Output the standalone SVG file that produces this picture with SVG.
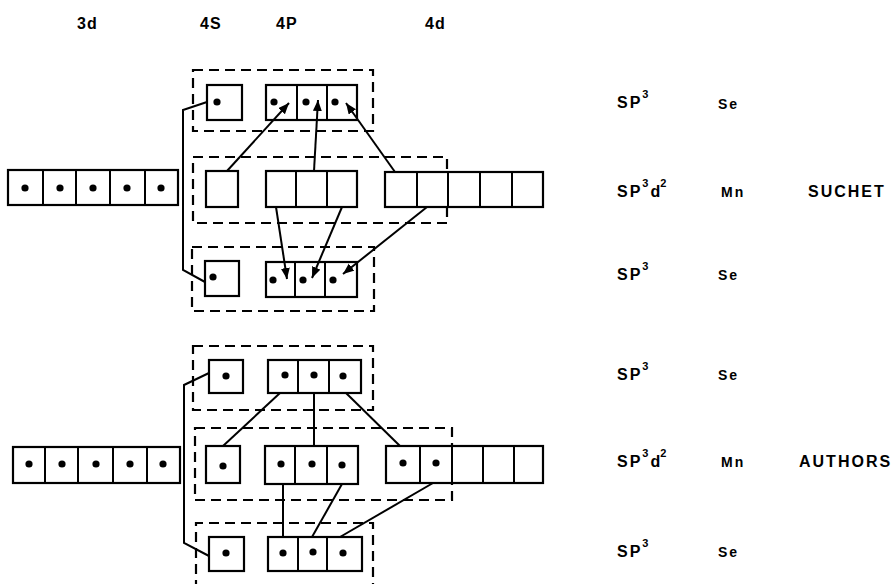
<svg xmlns="http://www.w3.org/2000/svg" width="894" height="584" viewBox="0 0 894 584">
<style>
.bx{fill:#fff;stroke:#000;stroke-width:2.2}
.dv{stroke:#000;stroke-width:2}
.dash{fill:none;stroke:#000;stroke-width:2.2;stroke-dasharray:10 6}
.ln{fill:none;stroke:#000;stroke-width:2}
.ar{marker-end:url(#ah)}
.dot{fill:#000}
.t{font-family:"Liberation Sans",Arial,sans-serif;font-weight:bold;fill:#000}
.h{font-size:16px;letter-spacing:1px}
.r{font-size:16px;letter-spacing:2px}
.s{font-size:14px;letter-spacing:2px}
.sup{font-size:11px}
</style>
<defs>
<marker id="ah" markerUnits="userSpaceOnUse" markerWidth="12" markerHeight="10" refX="11" refY="4.5" orient="auto">
<path d="M0,0 L11,4.5 L0,9 Z" fill="#000"/>
</marker>
</defs>
<rect width="894" height="584" fill="#fff"/>

<g id="headers" class="t h">
<text x="77" y="29">3d</text>
<text x="200" y="29">4S</text>
<text x="276" y="29">4P</text>
<text x="425" y="29">4d</text>
</g>

<g id="groups-suchet">
<rect class="dash" x="193" y="70" width="180" height="61"/>
<rect class="dash" x="193" y="157" width="254" height="66"/>
<rect class="dash" x="192" y="247" width="182" height="64"/>
</g>

<g id="groups-authors">
<rect class="dash" x="193" y="346" width="180" height="64"/>
<rect class="dash" x="195" y="428" width="257" height="72"/>
<path class="dash" d="M196,590 L196,523 L373,523 L373,590"/>
</g>

<g id="s-3d">
<rect class="bx" x="8" y="170" width="170" height="35"/>
<path class="dv" d="M43,170V205M76,170V205M110,170V205M145,170V205"/>
<circle class="dot" cx="25" cy="188" r="3.6"/><circle class="dot" cx="60" cy="188" r="3.6"/><circle class="dot" cx="93" cy="188" r="3.6"/><circle class="dot" cx="127" cy="188" r="3.6"/><circle class="dot" cx="161" cy="188" r="3.6"/>
</g>
<g id="s-se1-4s">
<rect class="bx" x="207" y="85" width="35" height="35"/>
<circle class="dot" cx="217" cy="102" r="3.6"/>
</g>
<g id="s-se1-4p">
<rect class="bx" x="266" y="85" width="91" height="35"/>
<path class="dv" d="M297,85V120M327,85V120"/>
<circle class="dot" cx="274" cy="102" r="3.6"/><circle class="dot" cx="306" cy="102" r="3.6"/><circle class="dot" cx="335" cy="102" r="3.6"/>
</g>
<g id="s-mn-4s">
<rect class="bx" x="206" y="171" width="32" height="36"/>
</g>
<g id="s-mn-4p">
<rect class="bx" x="266" y="171" width="91" height="36"/>
<path class="dv" d="M296,171V207M327,171V207"/>
</g>
<g id="s-mn-4d">
<rect class="bx" x="385" y="172" width="158" height="35"/>
<path class="dv" d="M417,172V207M448,172V207M480,172V207M512,172V207"/>
</g>
<g id="s-se2-4s">
<rect class="bx" x="205" y="261" width="34" height="35"/>
<circle class="dot" cx="213" cy="277" r="3.6"/>
</g>
<g id="s-se2-4p">
<rect class="bx" x="266" y="262" width="91" height="35"/>
<path class="dv" d="M295,262V297M325,262V297"/>
<circle class="dot" cx="273" cy="280" r="3.6"/><circle class="dot" cx="303" cy="280" r="3.6"/><circle class="dot" cx="333" cy="280" r="3.6"/>
</g>

<g id="a-3d">
<rect class="bx" x="13" y="447" width="167" height="36"/>
<path class="dv" d="M45,447V483M78,447V483M113,447V483M147,447V483"/>
<circle class="dot" cx="29" cy="464" r="3.6"/><circle class="dot" cx="62" cy="464" r="3.6"/><circle class="dot" cx="96" cy="464" r="3.6"/><circle class="dot" cx="130" cy="464" r="3.6"/><circle class="dot" cx="163" cy="464" r="3.6"/>
</g>
<g id="a-se1-4s">
<rect class="bx" x="209" y="360" width="34" height="33"/>
<circle class="dot" cx="226" cy="376" r="3.6"/>
</g>
<g id="a-se1-4p">
<rect class="bx" x="268" y="360" width="93" height="33"/>
<path class="dv" d="M298,360V393M329,360V393"/>
<circle class="dot" cx="285" cy="375" r="3.6"/><circle class="dot" cx="314" cy="375" r="3.6"/><circle class="dot" cx="343" cy="376" r="3.6"/>
</g>
<g id="a-mn-4s">
<rect class="bx" x="206" y="446" width="34" height="37"/>
<circle class="dot" cx="223" cy="466" r="3.6"/>
</g>
<g id="a-mn-4p">
<rect class="bx" x="265" y="446" width="93" height="38"/>
<path class="dv" d="M295,446V484M327,446V484"/>
<circle class="dot" cx="281" cy="464" r="3.6"/><circle class="dot" cx="312" cy="464" r="3.6"/><circle class="dot" cx="342" cy="465" r="3.6"/>
</g>
<g id="a-mn-4d">
<rect class="bx" x="386" y="446" width="157" height="37"/>
<path class="dv" d="M420,446V483M452,446V483M483,446V483M514,446V483"/>
<circle class="dot" cx="403" cy="463" r="3.6"/><circle class="dot" cx="436" cy="463" r="3.6"/>
</g>
<g id="a-se2-4s">
<rect class="bx" x="209" y="537" width="35" height="34"/>
<circle class="dot" cx="226" cy="553" r="3.6"/>
</g>
<g id="a-se2-4p">
<rect class="bx" x="268" y="537" width="94" height="34"/>
<path class="dv" d="M298,537V571M327,537V571"/>
<circle class="dot" cx="283" cy="553" r="3.6"/><circle class="dot" cx="313" cy="552" r="3.6"/><circle class="dot" cx="343" cy="553" r="3.6"/>
</g>

<g id="connectors">
<polyline class="ln" points="207,102 183,110 183,270 205,282"/>
<line class="ln ar" x1="227" y1="171" x2="289" y2="103"/>
<line class="ln ar" x1="314" y1="171" x2="318" y2="100"/>
<line class="ln ar" x1="395" y1="172" x2="346" y2="103"/>
<line class="ln ar" x1="276" y1="207" x2="287" y2="279"/>
<line class="ln ar" x1="342" y1="207" x2="312" y2="278"/>
<line class="ln ar" x1="427" y1="207" x2="343" y2="274"/>

<polyline class="ln" points="209,373 184,385 184,543 209,556"/>
<line class="ln" x1="280" y1="393" x2="223" y2="446"/>
<line class="ln" x1="314" y1="393" x2="314" y2="446"/>
<line class="ln" x1="346" y1="393" x2="400" y2="446"/>
<line class="ln" x1="283" y1="484" x2="283" y2="537"/>
<line class="ln" x1="342" y1="484" x2="312" y2="537"/>
<line class="ln" x1="433" y1="483" x2="340" y2="537"/>
</g>

<g id="labels" class="t">
<text class="r" x="617" y="108">SP<tspan class="sup" dy="-10">3</tspan></text>
<text class="s" x="718" y="109">Se</text>
<text class="r" x="617" y="197">SP<tspan class="sup" dy="-10">3</tspan><tspan dy="10" letter-spacing="0">d</tspan><tspan class="sup" dy="-10">2</tspan></text>
<text class="s" x="721" y="197">Mn</text>
<text class="r" x="808" y="197" letter-spacing="2.5">SUCHET</text>
<text class="r" x="617" y="280">SP<tspan class="sup" dy="-10">3</tspan></text>
<text class="s" x="718" y="280">Se</text>

<text class="r" x="617" y="380">SP<tspan class="sup" dy="-10">3</tspan></text>
<text class="s" x="718" y="380">Se</text>
<text class="r" x="617" y="467">SP<tspan class="sup" dy="-10">3</tspan><tspan dy="10" letter-spacing="0">d</tspan><tspan class="sup" dy="-10">2</tspan></text>
<text class="s" x="721" y="467">Mn</text>
<text class="r" x="799" y="467">AUTHORS</text>
<text class="r" x="617" y="557">SP<tspan class="sup" dy="-10">3</tspan></text>
<text class="s" x="718" y="557">Se</text>
</g>
</svg>
